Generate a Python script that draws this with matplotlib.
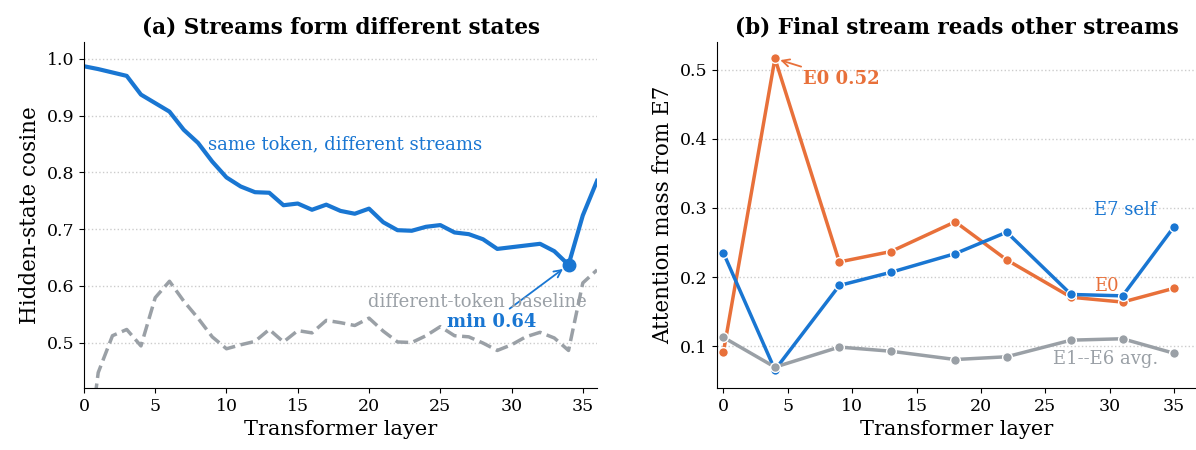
import numpy as np
import matplotlib.pyplot as plt

plt.rcParams['font.family'] = 'DejaVu Serif'

BLUE = '#1976d2'
ORANGE = '#e8703a'
GRAY = '#9aa0a6'

# (a) hidden-state cosine per layer
layers_a = np.arange(37)
same_token = [0.987, 0.982, 0.976, 0.970, 0.937, 0.922, 0.907, 0.875, 0.852, 0.819,
              0.791, 0.775, 0.765, 0.764, 0.742, 0.745, 0.734, 0.743, 0.732, 0.727,
              0.736, 0.712, 0.698, 0.697, 0.704, 0.707, 0.694, 0.691, 0.682, 0.665,
              0.668, 0.671, 0.674, 0.661, 0.637, 0.724, 0.785]
diff_token = [0.25, 0.447, 0.512, 0.523, 0.494, 0.579, 0.608, 0.573, 0.543, 0.510,
              0.489, 0.496, 0.502, 0.523, 0.501, 0.521, 0.517, 0.539, 0.535, 0.530,
              0.543, 0.520, 0.501, 0.500, 0.512, 0.528, 0.512, 0.510, 0.499, 0.486,
              0.496, 0.510, 0.518, 0.508, 0.486, 0.605, 0.628]

# (b) attention mass from the final stream
layers_b = [0, 4, 9, 13, 18, 22, 27, 31, 35]
e7_self = [0.235, 0.066, 0.188, 0.207, 0.234, 0.265, 0.175, 0.173, 0.273]
e0 = [0.092, 0.516, 0.222, 0.237, 0.280, 0.225, 0.171, 0.164, 0.184]
e1_e6 = [0.113, 0.070, 0.099, 0.093, 0.081, 0.085, 0.109, 0.111, 0.090]

fig = plt.figure(figsize=(11.96, 4.5), dpi=100)
ax1 = fig.add_axes([0.0702, 0.138, 0.4290, 0.769])
ax2 = fig.add_axes([0.5995, 0.138, 0.4005, 0.769])

for ax in (ax1, ax2):
    ax.spines['top'].set_visible(False)
    ax.spines['right'].set_visible(False)
    ax.grid(axis='y', linestyle=':', color='#cccccc', linewidth=1)
    ax.set_axisbelow(True)
    ax.tick_params(labelsize=12.5)
    ax.set_xlabel('Transformer layer', fontsize=15)

# ---- panel (a) ----
ax1.plot(layers_a, same_token, color=BLUE, lw=3)
ax1.plot(layers_a, diff_token, color=GRAY, lw=2.5, ls='--')
imin = int(np.argmin(same_token))
ax1.plot(layers_a[imin], same_token[imin], 'o', color=BLUE, ms=9)
ax1.annotate(f'min {same_token[imin]:.2f}', xy=(layers_a[imin], same_token[imin]),
             xytext=(28.6, 0.536), ha='center', va='center', fontsize=13,
             fontweight='bold', color=BLUE,
             arrowprops=dict(arrowstyle='->', color=BLUE, lw=1.3, shrinkB=5))
ax1.text(8.7, 0.85, 'same token, different streams', color=BLUE, fontsize=13,
         va='center', ha='left')
ax1.text(35.3, 0.572, 'different-token baseline', color=GRAY, fontsize=13,
         va='center', ha='right')
ax1.set_xlim(0, 36)
ax1.set_ylim(0.42, 1.03)
ax1.set_xticks(range(0, 36, 5))
ax1.set_ylabel('Hidden-state cosine', fontsize=15.5)
ax1.set_title('(a) Streams form different states', fontsize=15.5, fontweight='bold')

# ---- panel (b) ----
mk = dict(marker='o', ms=7, mec='white', mew=1)
ax2.plot(layers_b, e0, color=ORANGE, lw=2.5, **mk)
ax2.plot(layers_b, e7_self, color=BLUE, lw=2.5, **mk)
ax2.plot(layers_b, e1_e6, color=GRAY, lw=2.5, **mk)
ipk = int(np.argmax(e0))
ax2.annotate(f'E0 {e0[ipk]:.2f}', xy=(layers_b[ipk], e0[ipk]),
             xytext=(6.2, 0.486), ha='left', va='center', fontsize=13,
             fontweight='bold', color=ORANGE,
             arrowprops=dict(arrowstyle='->', color=ORANGE, lw=1.3, shrinkB=4))
ax2.text(31.2, 0.297, 'E7 self', color=BLUE, fontsize=13, ha='center', va='center')
ax2.text(28.8, 0.187, 'E0', color=ORANGE, fontsize=13, ha='left', va='center')
ax2.text(33.8, 0.082, 'E1--E6 avg.', color=GRAY, fontsize=13, ha='right', va='center')
ax2.set_xlim(-0.5, 36.7)
ax2.set_ylim(0.04, 0.54)
ax2.set_xticks(range(0, 36, 5))
ax2.set_yticks([0.1, 0.2, 0.3, 0.4, 0.5])
ax2.set_ylabel('Attention mass from E7', fontsize=15.5)
ax2.set_title('(b) Final stream reads other streams', fontsize=15.5, fontweight='bold')

fig.savefig('out.png', dpi=100)
